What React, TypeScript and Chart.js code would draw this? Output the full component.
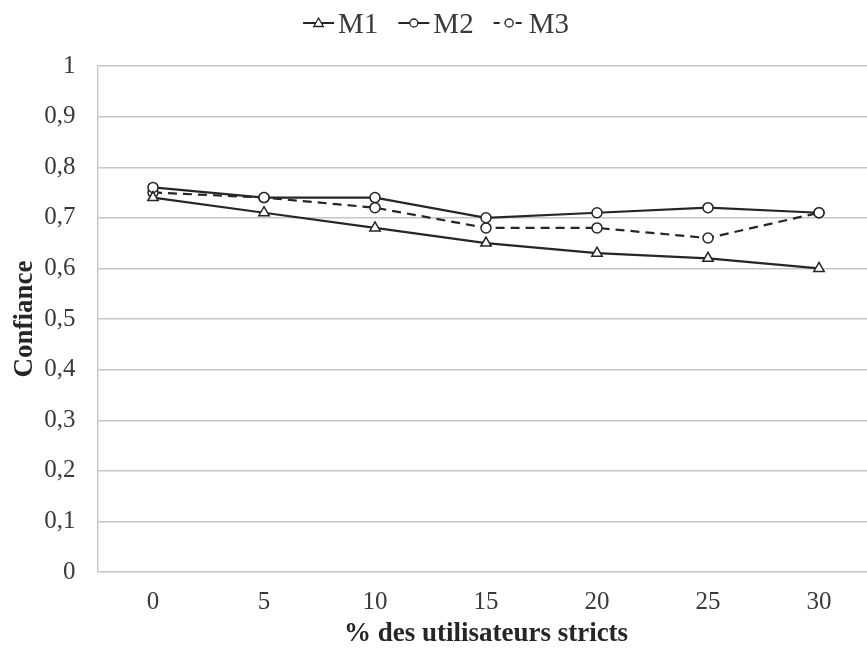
import React, { useEffect, useRef } from "react";
import { Chart, registerables } from "chart.js";

Chart.register(...registerables);

const categories = ["0", "5", "10", "15", "20", "25", "30"];
const m1Values = [0.74, 0.71, 0.68, 0.65, 0.63, 0.62, 0.6];
const m2Values = [0.76, 0.74, 0.74, 0.7, 0.71, 0.72, 0.71];
const m3Values = [0.75, 0.74, 0.72, 0.68, 0.68, 0.66, 0.71];
const seriesNames = ["M1", "M2", "M3"];
const xTitle = "% des utilisateurs stricts";
const yTitle = "Confiance";

const CW = 890;
const CH = 657;
const LINE = "#262626";
const GRID = "#c6c6c6";
const TEXT = "#3a3a3a";
const FONT = "'Liberation Serif', 'Times New Roman', serif";

const legendPlugin = {
  id: "customLegend",
  afterDraw(chart: any) {
    const ctx = chart.ctx;
    ctx.save();
    ctx.font = `29px ${FONT}`;
    const symW = 31;
    const gapSym = 4;
    const gapItem = 20;
    const widths = seriesNames.map((n) => ctx.measureText(n).width);
    const total =
      widths.reduce((a, b) => a + b, 0) + seriesNames.length * (symW + gapSym) + gapItem * (seriesNames.length - 1);
    let x = 436 - total / 2;
    const cy = 23;
    seriesNames.forEach((name, i) => {
      ctx.strokeStyle = LINE;
      ctx.lineWidth = 2;
      ctx.setLineDash(i === 2 ? [6, 5] : []);
      ctx.beginPath();
      ctx.moveTo(x, cy);
      ctx.lineTo(x + symW, cy);
      ctx.stroke();
      ctx.setLineDash([]);
      const mx = x + symW / 2;
      ctx.fillStyle = "#ffffff";
      ctx.lineWidth = 1.3;
      ctx.beginPath();
      if (i === 0) {
        const r = 5;
        ctx.moveTo(mx, cy - r);
        ctx.lineTo(mx + r * 0.95, cy + r * 0.7);
        ctx.lineTo(mx - r * 0.95, cy + r * 0.7);
        ctx.closePath();
      } else {
        ctx.arc(mx, cy, 4, 0, Math.PI * 2);
      }
      ctx.fill();
      ctx.stroke();
      ctx.fillStyle = TEXT;
      ctx.textBaseline = "alphabetic";
      ctx.textAlign = "left";
      ctx.fillText(name, x + symW + gapSym, cy + 10);
      x += symW + gapSym + widths[i] + gapItem;
    });
    ctx.restore();
  },
};

export default function App() {
  const ref = useRef<HTMLCanvasElement | null>(null);

  useEffect(() => {
    document.body.style.margin = "0";
    if (!ref.current) return;
    const common = {
      borderColor: LINE,
      borderWidth: 2.2,
      pointBackgroundColor: "#ffffff",
      pointBorderColor: LINE,
      pointBorderWidth: 1.5,
      tension: 0,
      fill: false,
    };
    const chart = new Chart(ref.current, {
      type: "line",
      data: {
        labels: categories,
        datasets: [
          { ...common, label: seriesNames[0], data: m1Values, pointStyle: "triangle", pointRadius: 6 },
          { ...common, label: seriesNames[1], data: m2Values, pointStyle: "circle", pointRadius: 5 },
          { ...common, label: seriesNames[2], data: m3Values, pointStyle: "circle", pointRadius: 5, borderDash: [9, 6] },
        ],
      },
      options: {
        responsive: false,
        animation: false,
        layout: { padding: { top: 66, right: CW - 874.5, bottom: 0, left: 0 } },
        plugins: { legend: { display: false }, tooltip: { enabled: false } },
        scales: {
          x: {
            offset: true,
            grid: { display: false, drawTicks: false },
            border: { display: false },
            ticks: { color: TEXT, font: { family: FONT, size: 25 }, padding: 15 },
            title: {
              display: true,
              text: xTitle,
              color: "#262626",
              font: { family: FONT, size: 27, weight: "bold" },
              padding: { top: 0, bottom: 7 },
            },
            afterFit(scale: any) {
              scale.height = 85;
            },
          },
          y: {
            min: 0,
            max: 1,
            ticks: {
              stepSize: 0.1,
              color: TEXT,
              font: { family: FONT, size: 25 },
              padding: 22,
              callback: (v: any) => String(Math.round(Number(v) * 10) / 10).replace(".", ","),
            },
            grid: { color: GRID, lineWidth: 1.4, drawTicks: false },
            border: { display: true, color: GRID, width: 1.4 },
            title: {
              display: true,
              text: yTitle,
              color: "#262626",
              font: { family: FONT, size: 27, weight: "bold" },
              padding: { top: 9, bottom: 0 },
            },
            afterFit(scale: any) {
              scale.width = 97.5;
            },
          },
        },
      },
      plugins: [legendPlugin],
    });
    return () => chart.destroy();
  }, []);

  return (
    <div style={{ width: 867, height: CH, overflow: "hidden", background: "#fff" }}>
      <canvas ref={ref} width={CW} height={CH} style={{ display: "block", width: CW, height: CH }} />
    </div>
  );
}
